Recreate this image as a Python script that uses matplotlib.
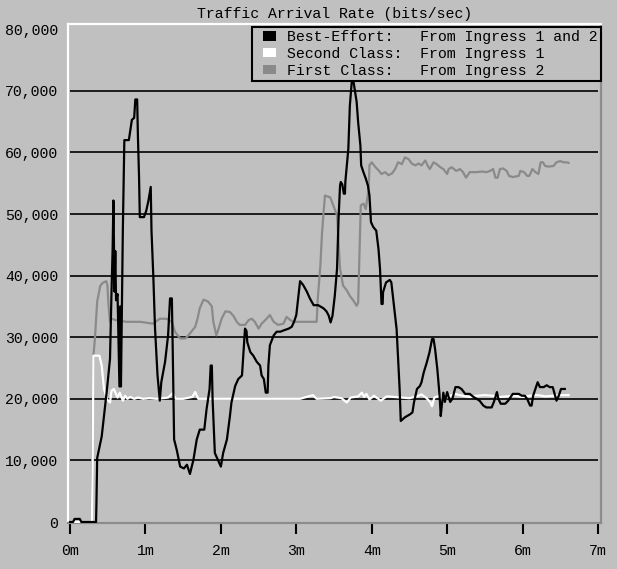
import matplotlib
matplotlib.use("Agg")
import matplotlib.pyplot as plt
from matplotlib.patches import Patch, Rectangle
from matplotlib.legend_handler import HandlerPatch

# time in minutes, rates in bits/sec
be_time = [0.00, 0.04, 0.06, 0.13, 0.15, 0.345, 0.35, 0.36, 0.42, 0.46, 0.49, 0.53, 0.55, 0.565,
           0.575, 0.59, 0.60, 0.61, 0.63, 0.655, 0.665, 0.675, 0.70, 0.72, 0.78, 0.80, 0.82,
           0.85, 0.866, 0.89, 0.90, 0.915, 0.925, 0.98, 1.01, 1.04, 1.07, 1.08, 1.105, 1.127,
           1.16, 1.19, 1.21, 1.26, 1.30, 1.326, 1.35, 1.36, 1.38, 1.415, 1.46, 1.51, 1.55,
           1.59, 1.636, 1.68, 1.72, 1.78, 1.81, 1.85, 1.865, 1.88, 1.89, 1.92, 1.96, 2.00,
           2.03, 2.08, 2.12, 2.14, 2.19, 2.23, 2.28, 2.30, 2.32, 2.34, 2.35, 2.39, 2.43,
           2.476, 2.52, 2.54, 2.57, 2.595, 2.62, 2.63, 2.65, 2.70, 2.74, 2.79, 2.83, 2.90,
           2.94, 2.97, 3.00, 3.02, 3.05, 3.09, 3.14, 3.18, 3.23, 3.29, 3.36, 3.40, 3.43,
           3.455, 3.48, 3.51, 3.54, 3.56, 3.58, 3.59, 3.61, 3.63, 3.645, 3.65, 3.69, 3.71,
           3.735, 3.76, 3.78, 3.80, 3.82, 3.85, 3.86, 3.89, 3.92, 3.95, 3.97, 3.99, 4.02,
           4.06, 4.09, 4.11, 4.13, 4.145, 4.15, 4.19, 4.24, 4.26, 4.29, 4.31, 4.33, 4.35,
           4.37, 4.385, 4.44, 4.51, 4.54, 4.56, 4.60, 4.64, 4.66, 4.69, 4.73, 4.765, 4.80,
           4.82, 4.84, 4.87, 4.90, 4.915, 4.93, 4.95, 4.97, 5.00, 5.04, 5.07, 5.11, 5.15,
           5.19, 5.24, 5.30, 5.35, 5.39, 5.43, 5.48, 5.52, 5.59, 5.62, 5.66, 5.68, 5.71,
           5.77, 5.81, 5.87, 5.95, 5.99, 6.03, 6.06, 6.10, 6.12, 6.14, 6.17, 6.20, 6.23,
           6.28, 6.32, 6.36, 6.40, 6.45, 6.48, 6.51, 6.56]
be_rate = [0, 0, 500, 500, 0, 0, 3000, 10400, 13900, 18300, 21600, 26500, 37400, 44500,
           52200, 37400, 44000, 36000, 37000, 22000, 35000, 22000, 47300, 62000, 62000, 63700, 65300,
           65600, 68600, 68600, 62600, 56000, 49500, 49500, 50500, 52200, 54400, 47300, 39600, 31400,
           23800, 19700, 22700, 26000, 30300, 36300, 36300, 29200, 13400, 11700, 9000, 8700, 9300,
           7800, 10100, 13400, 15000, 15000, 18300, 21600, 25400, 25400, 20000, 11200, 10100, 9000,
           11200, 13400, 17200, 19400, 22100, 23200, 23800, 27600, 31400, 31000, 29200, 27600, 27000,
           26000, 25400, 23800, 23200, 21000, 21000, 25400, 28700, 30300, 30900, 30900, 31100, 31400,
           31700, 32500, 33600, 35800, 39100, 38500, 37400, 36300, 35200, 35200, 34700, 34200, 33500,
           32400, 33500, 36700, 41100, 49200, 54600, 55200, 54800, 53300, 53300, 55200, 60600, 67600,
           71400, 71400, 69800, 68200, 64900, 61100, 57900, 56800, 55800, 54600, 53000, 48700, 47900,
           47300, 44300, 41100, 35400, 35400, 37300, 38900, 39300, 38900, 35700, 33500, 31300, 26400,
           21600, 16400, 17000, 17500, 17800, 19400, 21600, 22100, 22700, 24300, 25900, 27500, 29700,
           29700, 28100, 24800, 20500, 17200, 19000, 21000, 19500, 21100, 19500, 20000, 21900, 21900,
           21600, 20800, 20800, 20300, 20000, 19700, 18900, 18600, 18600, 19500, 21100, 20000, 19200,
           19200, 19700, 20800, 20800, 20500, 20500, 20000, 18900, 18900, 20500, 21600, 22700, 21900,
           21900, 22200, 21900, 21900, 19700, 20500, 21600, 21600]

sc_time = [0.00, 0.29, 0.30, 0.31, 0.39, 0.42, 0.45, 0.49, 0.53, 0.55, 0.58, 0.61, 0.63, 0.66,
           0.70, 0.73, 0.76, 0.80, 0.85, 0.90, 0.97, 1.05, 1.15, 1.30, 1.36, 1.40, 1.50, 1.62,
           1.66, 1.70, 1.80, 2.00, 2.30, 2.60, 2.90, 3.05, 3.22, 3.27, 3.45, 3.50, 3.60, 3.67,
           3.72, 3.82, 3.87, 3.90, 3.93, 3.97, 4.03, 4.12, 4.20, 4.30, 4.40, 4.50, 4.60, 4.66,
           4.72, 4.78, 4.80, 4.83, 4.90, 4.95, 5.00, 5.10, 5.20, 5.30, 5.40, 5.50, 5.60, 5.70,
           5.80, 5.90, 6.00, 6.10, 6.20, 6.30, 6.40, 6.50, 6.61]
sc_rate = [0, 0, 9000, 27000, 27000, 25400, 21600, 19900, 19400, 21300, 21600, 20800, 20200, 21000,
           19700, 20500, 20000, 20300, 20000, 20200, 20000, 20100, 20000, 20200, 20900, 20000, 20000, 20300,
           21100, 20000, 20000, 20000, 20000, 20000, 20000, 20000, 20600, 20000, 20100, 20300, 20100, 19400,
           20200, 20400, 21000, 20300, 20800, 19900, 20500, 19700, 20400, 20300, 20200, 20100, 20400, 20700,
           20200, 19400, 18800, 20200, 20500, 19700, 20300, 20800, 20500, 20300, 20500, 20600, 20500, 20300,
           20400, 20500, 20300, 20500, 20600, 20400, 20500, 20600, 20600]

fc_time = [0.00, 0.29, 0.31, 0.33, 0.36, 0.40, 0.43, 0.48, 0.495, 0.51, 0.53, 0.55, 0.60, 0.75,
           0.93, 1.10, 1.19, 1.28, 1.35, 1.39, 1.46, 1.53, 1.59, 1.66, 1.69, 1.72, 1.77, 1.83,
           1.88, 1.90, 1.94, 1.97, 2.01, 2.06, 2.12, 2.17, 2.21, 2.25, 2.32, 2.37, 2.41, 2.45,
           2.50, 2.54, 2.59, 2.65, 2.70, 2.76, 2.83, 2.87, 2.92, 2.96, 3.27, 3.285, 3.32, 3.34,
           3.36, 3.38, 3.45, 3.49, 3.54, 3.56, 3.58, 3.62, 3.67, 3.71, 3.76, 3.80, 3.82, 3.84,
           3.855, 3.89, 3.92, 3.96, 3.97, 4.00, 4.05, 4.09, 4.13, 4.18, 4.22, 4.27, 4.31, 4.35,
           4.40, 4.44, 4.49, 4.53, 4.58, 4.62, 4.66, 4.71, 4.74, 4.77, 4.82, 4.86, 4.91, 4.95,
           5.00, 5.02, 5.06, 5.12, 5.17, 5.21, 5.25, 5.30, 5.39, 5.46, 5.52, 5.57, 5.61, 5.64,
           5.67, 5.70, 5.74, 5.79, 5.82, 5.87, 5.95, 5.97, 6.02, 6.06, 6.09, 6.13, 6.17, 6.21,
           6.24, 6.27, 6.30, 6.34, 6.41, 6.45, 6.50, 6.54, 6.58, 6.61]
fc_rate = [0, 0, 27000, 29800, 35800, 38300, 38800, 39100, 38500, 35200, 32500, 33000, 32800, 32500,
           32500, 32200, 33000, 33000, 32500, 30900, 29800, 29800, 30600, 31700, 33000, 34700, 36100, 35800,
           35000, 32500, 30300, 31400, 33000, 34200, 34100, 33400, 32500, 32000, 32000, 32800, 33000, 32500,
           31400, 32200, 32800, 33600, 32500, 32000, 32200, 33300, 32800, 32500, 32500, 36300, 41800, 46700,
           50000, 53000, 52700, 51400, 49800, 45400, 41100, 38400, 37600, 36700, 35900, 35100, 35600, 44300,
           51400, 51700, 50800, 54100, 57900, 58400, 57600, 57100, 56500, 56800, 56300, 56600, 57300, 58400,
           58100, 59200, 58900, 58200, 57900, 58200, 57900, 58700, 57900, 57300, 58400, 58100, 57600, 57300,
           56500, 57300, 57600, 57000, 57300, 56800, 55900, 56800, 56800, 56900, 56800, 57000, 57300, 55900,
           55900, 57300, 57400, 57000, 56200, 56000, 56200, 57000, 56800, 56200, 56200, 57300, 56800, 56500,
           58400, 58400, 57800, 57700, 57800, 58400, 58600, 58400, 58400, 58300]

y_ticks = [0, 10000, 20000, 30000, 40000, 50000, 60000, 70000, 80000]
grid_vals = [10000, 20000, 30000, 40000, 50000, 60000, 70000]
x_ticks = [0, 1, 2, 3, 4, 5, 6, 7]
x_labels = ["0m", "1m", "2m", "3m", "4m", "5m", "6m", "7m"]

legend_labels = ["Best-Effort:   From Ingress 1 and 2",
                 "Second Class:  From Ingress 1",
                 "First Class:   From Ingress 2"]

BG = "#c0c0c0"
FONT = "Liberation Mono"
FS = 10.7

fig = plt.figure(figsize=(6.17, 5.69), dpi=100, facecolor=BG)
ax = fig.add_axes([68 / 617, 1 - 523 / 569, 533 / 617, 499 / 569], facecolor=BG)

ax.hlines(grid_vals, 0, 7, colors="black", linewidth=1.2, zorder=1)

ax.plot(fc_time, fc_rate, color="#8a8a8a", linewidth=1.6, zorder=2)
ax.plot(sc_time, sc_rate, color="white", linewidth=1.6, zorder=3)
ax.plot(be_time, be_rate, color="black", linewidth=1.6, zorder=4)

ax.set_xlim(-0.027, 7.04)
ax.set_ylim(-160, 80850)

ax.set_xticks(x_ticks)
ax.set_xticklabels(x_labels, fontfamily=FONT, fontsize=FS)
ax.set_yticks(y_ticks)
ax.set_yticklabels([f"{v:,}" for v in y_ticks], fontfamily=FONT, fontsize=FS)
ax.tick_params(axis="x", direction="out", length=8, width=1.5, color="black", pad=7)
ax.tick_params(axis="y", length=0, pad=7)

# bevelled frame: light on top/left, dark on bottom/right
for side, col in (("top", "white"), ("left", "white"), ("bottom", "#8c8c8c"), ("right", "#8c8c8c")):
    ax.spines[side].set_color(col)
    ax.spines[side].set_linewidth(1.6)

ax.set_title("Traffic Arrival Rate (bits/sec)", fontfamily=FONT, fontsize=FS, pad=4)


def swatch(legend, orig_handle, xdescent, ydescent, width, height, fontsize):
    # small colour box, pushed a little to the right inside the handle slot
    shift = 6
    return Rectangle((-xdescent + shift, -ydescent), width - shift, height)


handles = [Patch(facecolor="black", edgecolor="none"),
           Patch(facecolor="white", edgecolor="none"),
           Patch(facecolor="#8a8a8a", edgecolor="none")]
leg = ax.legend(handles, legend_labels, loc="upper right", bbox_to_anchor=(1.0, 0.994),
                prop={"family": FONT, "size": FS}, fancybox=False, framealpha=1,
                facecolor=BG, edgecolor="black", borderaxespad=0, borderpad=0.22,
                handlelength=1.4, handleheight=0.6, handletextpad=0.75, labelspacing=0.18,
                handler_map={Patch: HandlerPatch(patch_func=swatch)})
leg.get_frame().set_linewidth(1.5)
leg.set_zorder(5)

fig.savefig("out.png", dpi=100, facecolor=BG)
